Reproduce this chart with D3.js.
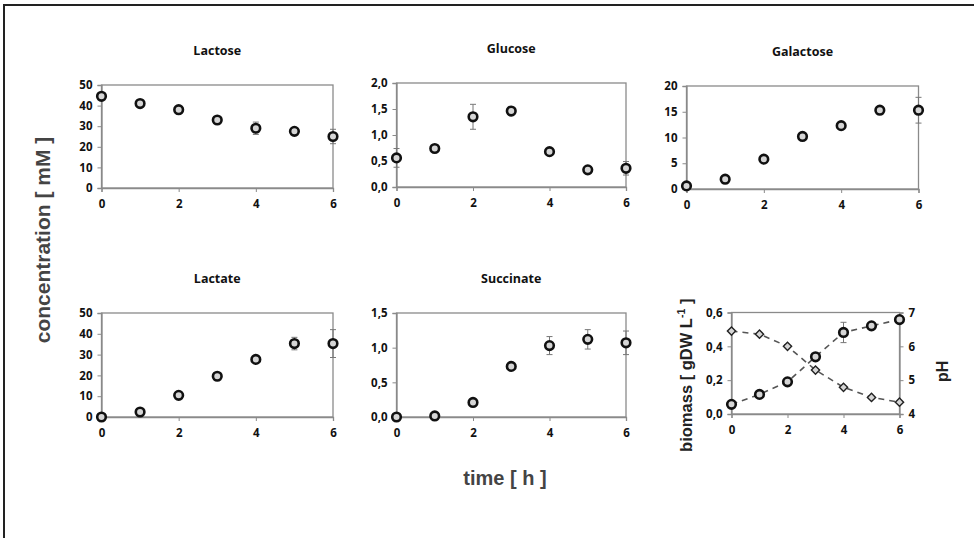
<!DOCTYPE html>
<html>
<head>
<meta charset="utf-8">
<script src="https://cdn.jsdelivr.net/npm/d3@7"></script>
<style>
  body { margin: 0; background: #fff; }
  svg { display: block; }
  .tick text { font-family: "Open Sans", sans-serif; font-weight: bold; font-size: 11.5px; fill: #111; }
</style>
</head>
<body>
<div id="chart"></div>
<script>
var W = 974, H = 538;

// time points (h)
var times = [0, 1, 2, 3, 4, 5, 6];

// concentrations (mM) and their error bars
var lactose = [44.5, 41, 38, 33, 29, 27.5, 25];
var lactoseErr = [0.8, 0.6, 0.6, 0.6, 3, 0.8, 3.5];
var glucose = [0.56, 0.74, 1.35, 1.46, 0.68, 0.33, 0.36];
var glucoseErr = [0.18, 0.03, 0.24, 0.04, 0.04, 0.03, 0.13];
var galactose = [0.6, 1.9, 5.8, 10.2, 12.3, 15.3, 15.3];
var galactoseErr = [0.2, 0.2, 0.3, 0.3, 0.3, 0.4, 2.5];
var lactate = [0, 2.4, 10.4, 19.6, 27.7, 35.3, 35.3];
var lactateErr = [0.2, 0.3, 0.4, 0.4, 0.6, 3, 6.7];
var succinate = [0, 0.015, 0.21, 0.73, 1.03, 1.12, 1.07];
var succinateErr = [0.01, 0.01, 0.02, 0.05, 0.13, 0.14, 0.17];
var biomass = [0.057, 0.116, 0.19, 0.338, 0.482, 0.521, 0.558];
var biomassErr = [0.005, 0.005, 0.005, 0.01, 0.06, 0.01, 0.01];
var pH = [6.45, 6.36, 6.0, 5.3, 4.79, 4.49, 4.35];

var xTicks = [0, 2, 4, 6];

var commaFmt = function (d) { return d3.format(".1f")(d).replace(".", ","); };

var svg = d3.select("#chart").append("svg")
    .attr("width", W)
    .attr("height", H);

// outer frame (top and left edge)
svg.append("path")
    .attr("d", "M4,538 L4,5 L974,5")
    .attr("fill", "none")
    .attr("stroke", "#222")
    .attr("stroke-width", 2);

function drawAxes(g, x, y, yTicks, yFmt, w, h) {
    g.append("rect")
        .attr("width", w).attr("height", h)
        .attr("fill", "none")
        .attr("stroke", "#8a8a8a")
        .attr("stroke-width", 1.3);

    var ya = g.append("g")
        .call(d3.axisLeft(y).tickValues(yTicks).tickFormat(yFmt).tickSize(4).tickPadding(5));
    var xa = g.append("g")
        .attr("transform", "translate(0," + h + ")")
        .call(d3.axisBottom(x).tickValues(xTicks).tickFormat(d3.format("d")).tickSize(4).tickPadding(8));
    [ya, xa].forEach(function (a) {
        a.select(".domain").attr("stroke", "#8a8a8a").attr("stroke-width", 1.3);
        a.selectAll(".tick line").attr("stroke", "#8a8a8a");
    });
}

function drawErr(g, x, y, vals, errs) {
    var eb = g.append("g").selectAll("g")
        .data(vals.map(function (v, i) { return { t: times[i], v: v, e: errs[i] }; }))
        .enter().append("g")
        .attr("stroke", "#777")
        .attr("stroke-width", 1);
    eb.append("line")
        .attr("x1", function (d) { return x(d.t); })
        .attr("x2", function (d) { return x(d.t); })
        .attr("y1", function (d) { return y(d.v - d.e); })
        .attr("y2", function (d) { return y(d.v + d.e); });
    eb.append("line")
        .attr("x1", function (d) { return x(d.t) - 3; })
        .attr("x2", function (d) { return x(d.t) + 3; })
        .attr("y1", function (d) { return y(d.v + d.e); })
        .attr("y2", function (d) { return y(d.v + d.e); });
    eb.append("line")
        .attr("x1", function (d) { return x(d.t) - 3; })
        .attr("x2", function (d) { return x(d.t) + 3; })
        .attr("y1", function (d) { return y(d.v - d.e); })
        .attr("y2", function (d) { return y(d.v - d.e); });
}

function drawCircles(g, x, y, vals) {
    g.append("g").selectAll("circle")
        .data(vals)
        .enter().append("circle")
        .attr("cx", function (d, i) { return x(times[i]); })
        .attr("cy", function (d) { return y(d); })
        .attr("r", 4.3)
        .attr("fill", "#d6d6d6")
        .attr("stroke", "#111")
        .attr("stroke-width", 2.6);
}

function panel(title, vals, errs, yMax, yTicks, yFmt, left, top, w, h) {
    var g = svg.append("g").attr("transform", "translate(" + left + "," + top + ")");
    var x = d3.scaleLinear().domain([0, 6]).range([0, w]);
    var y = d3.scaleLinear().domain([0, yMax]).range([h, 0]);
    drawAxes(g, x, y, yTicks, yFmt, w, h);
    drawErr(g, x, y, vals, errs);
    drawCircles(g, x, y, vals);
    g.append("text")
        .attr("x", w / 2)
        .attr("y", -30)
        .attr("text-anchor", "middle")
        .style("font-family", "'Open Sans', sans-serif")
        .style("font-weight", "bold")
        .style("font-size", "12.5px")
        .attr("fill", "#111")
        .text(title);
}

var intFmt = d3.format("d");

panel("Lactose", lactose, lactoseErr, 50, [0, 10, 20, 30, 40, 50], intFmt, 101.5, 85, 231.5, 103);
panel("Glucose", glucose, glucoseErr, 2, [0, 0.5, 1, 1.5, 2], commaFmt, 396.5, 83, 229.5, 104);
panel("Galactose", galactose, galactoseErr, 20, [0, 5, 10, 15, 20], intFmt, 686.5, 86, 232, 103);
panel("Lactate", lactate, lactateErr, 50, [0, 10, 20, 30, 40, 50], intFmt, 101.5, 313, 231.5, 104);
panel("Succinate", succinate, succinateErr, 1.5, [0, 0.5, 1, 1.5], commaFmt, 396.5, 313, 229.5, 104);

// biomass + pH panel
(function () {
    var left = 731.5, top = 312.5, w = 168, h = 101.5;
    var g = svg.append("g").attr("transform", "translate(" + left + "," + top + ")");
    var x = d3.scaleLinear().domain([0, 6]).range([0, w]);
    var y = d3.scaleLinear().domain([0, 0.6]).range([h, 0]);
    var y2 = d3.scaleLinear().domain([4, 7]).range([h, 0]);
    drawAxes(g, x, y, [0, 0.2, 0.4, 0.6], commaFmt, w, h);
    var ra = g.append("g")
        .attr("transform", "translate(" + w + ",0)")
        .call(d3.axisRight(y2).tickValues([4, 5, 6, 7]).tickFormat(intFmt).tickSize(4).tickPadding(5));
    ra.select(".domain").attr("stroke", "#8a8a8a").attr("stroke-width", 1.3);
    ra.selectAll(".tick line").attr("stroke", "#8a8a8a");

    var lineB = d3.line().x(function (d, i) { return x(times[i]); }).y(function (d) { return y(d); });
    var lineP = d3.line().x(function (d, i) { return x(times[i]); }).y(function (d) { return y2(d); });
    [lineP(pH), lineB(biomass)].forEach(function (p) {
        g.append("path").attr("d", p).attr("fill", "none")
            .attr("stroke", "#555").attr("stroke-width", 1.6).attr("stroke-dasharray", "6,5");
    });

    g.append("g").selectAll("path")
        .data(pH)
        .enter().append("path")
        .attr("d", d3.symbol().type(d3.symbolSquare).size(34))
        .attr("transform", function (d, i) { return "translate(" + x(times[i]) + "," + y2(d) + ") rotate(45)"; })
        .attr("fill", "#d6d6d6")
        .attr("stroke", "#222")
        .attr("stroke-width", 1.4);

    drawErr(g, x, y, biomass, biomassErr);
    drawCircles(g, x, y, biomass);

    var lab = g.append("text")
        .attr("transform", "translate(-40," + (h / 2 + 12) + ") rotate(-90)")
        .attr("text-anchor", "middle")
        .style("font-family", "'Liberation Sans', Arial, sans-serif")
        .style("font-weight", "bold")
        .style("font-size", "16.5px")
        .attr("fill", "#222");
    lab.append("tspan").text("biomass [ gDW L");
    lab.append("tspan").attr("dy", -7).style("font-size", "10.5px").text("-1");
    lab.append("tspan").attr("dy", 7).text(" ]");

    g.append("text")
        .attr("transform", "translate(" + (w + 48) + "," + (h / 2 + 8) + ") rotate(-90)")
        .attr("text-anchor", "middle")
        .style("font-family", "'Liberation Sans', Arial, sans-serif")
        .style("font-weight", "bold")
        .style("font-size", "16px")
        .attr("fill", "#222")
        .text("pH");
})();

// shared axis titles
svg.append("text")
    .attr("transform", "translate(50,240) rotate(-90)")
    .attr("text-anchor", "middle")
    .style("font-family", "'Liberation Sans', Arial, sans-serif")
    .style("font-weight", "bold")
    .style("font-size", "21px")
    .attr("fill", "#444")
    .text("concentration [ mM ]");

svg.append("text")
    .attr("x", 505)
    .attr("y", 485)
    .attr("text-anchor", "middle")
    .style("font-family", "'Liberation Sans', Arial, sans-serif")
    .style("font-weight", "bold")
    .style("font-size", "20px")
    .attr("fill", "#444")
    .text("time [ h ]");
</script>
</body>
</html>
